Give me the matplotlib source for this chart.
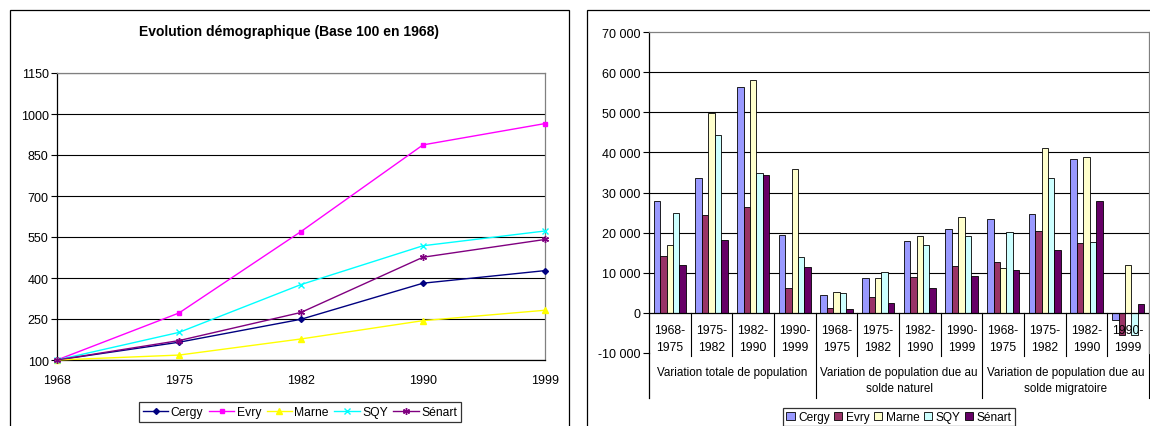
import matplotlib
matplotlib.use("Agg")
import matplotlib.pyplot as plt
import numpy as np
from matplotlib.patches import Rectangle

plt.rcParams['font.family'] = ['Liberation Sans', 'DejaVu Sans']
plt.rcParams['font.size'] = 8.5

# --- données graphique de gauche (base 100 en 1968)
years = ['1968', '1975', '1982', '1990', '1999']
idx_cergy = [100, 165, 249, 381, 427]
idx_evry = [100, 272, 570, 887, 965]
idx_marne = [100, 118, 177, 244, 282]
idx_sqy = [100, 201, 376, 518, 572]
idx_senart = [100, 171, 274, 476, 541]

# --- données graphique de droite (variations de population)
periods = ['1968-1975', '1975-1982', '1982-1990', '1990-1999']
groups = ['Variation totale de population',
          'Variation de population due au\nsolde naturel',
          'Variation de population due au\nsolde migratoire']
var_cergy = [28000, 33500, 56200, 19500, 4400, 8700, 17900, 20900, 23400, 24700, 38300, -1700]
var_evry = [14100, 24400, 26400, 6300, 1300, 4000, 9000, 11700, 12700, 20300, 17400, -5500]
var_marne = [16800, 49800, 58100, 35900, 5200, 8700, 19200, 23900, 11300, 41000, 38900, 12000]
var_sqy = [25000, 44300, 34900, 14000, 4900, 10300, 17000, 19200, 20100, 33700, 17700, -5500]
var_senart = [12000, 18200, 34300, 11400, 1000, 2500, 6200, 9200, 10800, 15700, 28000, 2300]

towns = ['Cergy', 'Evry', 'Marne', 'SQY', 'Sénart']

W, H = 1150, 427
fig = plt.figure(figsize=(W / 100, H / 100), dpi=100)
fig.patch.set_facecolor('white')


def box(l, t, r, b):
    return [l / W, 1 - b / H, (r - l) / W, (b - t) / H]


# cadres des deux graphiques
for l, r in [(10, 569), (587, 1152)]:
    fig.add_artist(Rectangle((l / W, -0.1), (r - l) / W, 1 - 11 / H + 0.1,
                             transform=fig.transFigure, fill=False,
                             ec='black', lw=0.9))

# ================= graphique de gauche
ax1 = fig.add_axes(box(57, 74, 545, 361))
x = np.arange(len(years))
line_styles = [
    (idx_cergy, '#000080', 'D', 3.0),
    (idx_evry, '#FF00FF', 's', 3.2),
    (idx_marne, '#FFFF00', '^', 3.8),
    (idx_sqy, '#00FFFF', 'x', 4.0),
    (idx_senart, '#800080', (6, 2, 0), 5.0),
]
for (vals, col, mk, ms), name in zip(line_styles, towns):
    ax1.plot(x, vals, color=col, marker=mk, ms=ms, mec=col, mfc=col, mew=1.0,
             lw=1.0, label=name, clip_on=False, zorder=3)

ax1.set_xlim(0, 4)
ax1.set_ylim(100, 1150)
ax1.set_yticks(np.arange(100, 1151, 150))
ax1.set_xticks(x)
ax1.set_xticklabels(years)
ax1.tick_params(axis='x', length=0, pad=10, labelsize=9)
ax1.tick_params(axis='y', length=4, width=0.8, direction='out', pad=2, labelsize=9)
ax1.yaxis.grid(True, color='black', lw=0.8)
ax1.set_axisbelow(True)
for s in ['left', 'bottom']:
    ax1.spines[s].set_color('black')
    ax1.spines[s].set_linewidth(0.9)
for s in ['top', 'right']:
    ax1.spines[s].set_color('#808080')
    ax1.spines[s].set_linewidth(0.9)
fig.text(289 / W, 1 - 32 / H, 'Evolution démographique (Base 100 en 1968)',
         ha='center', va='center', fontsize=10, fontweight='bold')

leg1 = fig.legend(*ax1.get_legend_handles_labels(), loc='center',
                  bbox_to_anchor=(300 / W, 1 - 413 / H), ncol=5, fontsize=8.7,
                  frameon=True, fancybox=False, edgecolor='black',
                  handlelength=2.1, handletextpad=0.2, columnspacing=0.45,
                  borderpad=0.3, borderaxespad=0)
leg1.get_frame().set_linewidth(0.9)

# ================= graphique de droite
ax2 = fig.add_axes(box(649, 33, 1149, 354))
bar_cols = ['#9999FF', '#993366', '#FFFFCC', '#CCFFFF', '#660066']
series = [var_cergy, var_evry, var_marne, var_sqy, var_senart]
n = len(var_cergy)
bw = 1 / 6.5
cx = np.arange(n) + 0.5
for i, (vals, col, name) in enumerate(zip(series, bar_cols, towns)):
    ax2.bar(cx + (i - 2) * bw, vals, width=bw, color=col, edgecolor='black',
            lw=0.6, label=name, zorder=3)

ax2.set_xlim(0, n)
ax2.set_ylim(-10000, 70000)
ax2.set_yticks(np.arange(-10000, 70001, 10000))
ax2.set_yticklabels([f'{v:,}'.replace(',', ' ') for v in range(-10000, 70001, 10000)])
ax2.set_xticks([])
ax2.tick_params(axis='y', length=4, width=0.8, direction='out', pad=2, labelsize=9)
ax2.set_axisbelow(True)
for v in range(10000, 70000, 10000):
    ax2.axhline(v, color='black', lw=0.8, zorder=1)
ax2.axhline(0, color='black', lw=0.9, zorder=4)
ax2.spines['bottom'].set_visible(False)
ax2.spines['left'].set_color('black')
ax2.spines['left'].set_linewidth(0.9)
for s in ['top', 'right']:
    ax2.spines[s].set_color('#808080')
    ax2.spines[s].set_linewidth(0.9)

# étiquettes de catégories à deux niveaux
ax2.plot([0, 0], [-10000, -21200], color='black', lw=0.9, clip_on=False)
for k in range(1, n + 1):
    bottom = -21200 if k % 4 == 0 else -10700
    ax2.plot([k, k], [0, bottom], color='black', lw=0.8, clip_on=False)
for k in range(n):
    a, b = periods[k % 4].split('-')
    ax2.text(k + 0.5, -4200, a + '-', ha='center', va='center', fontsize=8.7)
    ax2.text(k + 0.5, -8450, b, ha='center', va='center', fontsize=8.7)
for g, lab in enumerate(groups):
    for j, part in enumerate(lab.split('\n')):
        ax2.text(g * 4 + 2, -14700 - j * 4000, part, ha='center', va='center',
                 fontsize=8.4)

leg2 = fig.legend(*ax2.get_legend_handles_labels(), loc='center',
                  bbox_to_anchor=(899 / W, 1 - 418 / H), ncol=5, fontsize=8.6,
                  frameon=True, fancybox=False, edgecolor='black',
                  handlelength=0.7, handleheight=0.7, handletextpad=0.3,
                  columnspacing=0.35, borderpad=0.25, borderaxespad=0)
leg2.get_frame().set_linewidth(0.9)

fig.savefig('out.png', dpi=100)
